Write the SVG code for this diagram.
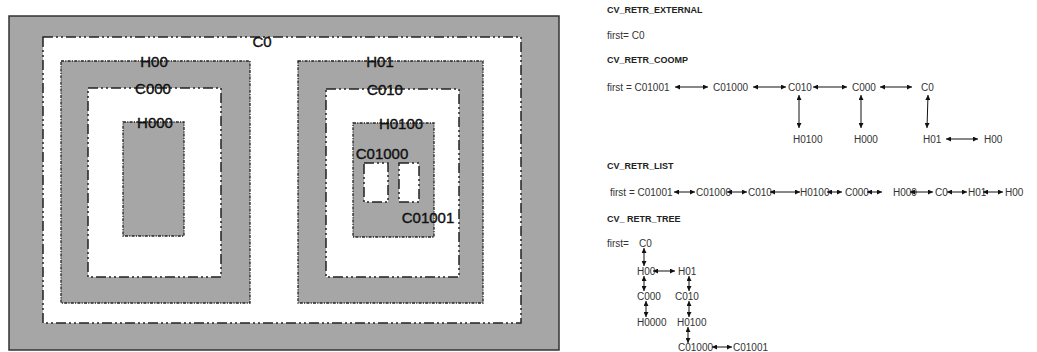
<svg xmlns="http://www.w3.org/2000/svg" width="1037" height="352" viewBox="0 0 1037 352">
<defs>
<marker id="ah" viewBox="0 0 6 6" refX="6" refY="3" markerWidth="6" markerHeight="5" markerUnits="userSpaceOnUse" orient="auto-start-reverse"><path d="M0,0 L6,3 L0,6 z" fill="#111"/></marker>
<style>
.bg{fill:#fff}
.panel{fill:#a6a6a6;stroke:#333;stroke-width:1.5}
.c{fill:#fff;stroke:#222;stroke-width:1.5;stroke-dasharray:10 3 2 3 2 3}
.h{fill:#a6a6a6;stroke:#222;stroke-width:1.3;stroke-dasharray:3 1.2 1.2 1.2}
.lbl{font-family:"Liberation Sans",Arial,sans-serif;font-size:15px;fill:#111;stroke:#111;stroke-width:0.4;text-anchor:middle}
.hd{font-family:"Liberation Sans",Arial,sans-serif;font-size:9px;font-weight:bold;fill:#222}
.t{font-family:"Liberation Sans",Arial,sans-serif;font-size:10px;fill:#333}
.ar{stroke:#111;stroke-width:1;fill:none;marker-start:url(#ah);marker-end:url(#ah)}
</style>
</defs>
<rect class="bg" x="0" y="0" width="1037" height="352"/>
<g id="image">
<rect class="panel" x="9" y="16" width="550" height="334"/>
<g id="C0"><rect class="c" x="43" y="37" width="478" height="286"/><text class="lbl" x="262" y="47">C0</text></g>
<g id="H00"><rect class="h" x="61" y="61" width="189" height="242"/><text class="lbl" x="154" y="67">H00</text></g>
<g id="C000"><rect class="c" x="88" y="88" width="133" height="189"/><text class="lbl" x="153" y="94">C000</text></g>
<g id="H000"><rect class="h" x="123" y="122" width="61" height="114"/><text class="lbl" x="155" y="128">H000</text></g>
<g id="H01"><rect class="h" x="298" y="61" width="185" height="242"/><text class="lbl" x="380" y="67">H01</text></g>
<g id="C010"><rect class="c" x="326" y="89" width="133" height="188"/><text class="lbl" x="385" y="95">C010</text></g>
<g id="H0100"><rect class="h" x="353" y="123" width="81" height="114"/><text class="lbl" x="401" y="129">H0100</text></g>
<g id="C01000"><rect class="c" x="364" y="163" width="24" height="39"/><text class="lbl" x="382" y="159">C01000</text></g>
<g id="C01001"><rect class="c" x="399" y="163" width="20" height="39"/><text class="lbl" x="428" y="223">C01001</text></g>
</g>
<g id="external">
<text class="hd" x="607" y="13">CV_RETR_EXTERNAL</text>
<text class="t" x="607" y="39">first= C0</text>
</g>
<g id="ccomp">
<text class="hd" x="607" y="63">CV_RETR_COOMP</text>
<text class="t" x="607" y="91">first = C01001</text>
<text class="t" x="713" y="91">C01000</text>
<text class="t" x="788" y="91">C010</text>
<text class="t" x="852" y="91">C000</text>
<text class="t" x="921" y="91">C0</text>
<text class="t" x="793" y="143">H0100</text>
<text class="t" x="854" y="143">H000</text>
<text class="t" x="923" y="143">H01</text>
<text class="t" x="984" y="143">H00</text>
</g>
<g id="list">
<text class="hd" x="607" y="169">CV_RETR_LIST</text>
<text class="t" x="610" y="196">first = C01001</text>
<text class="t" x="696" y="196">C01000</text>
<text class="t" x="748" y="196">C010</text>
<text class="t" x="800" y="196">H0100</text>
<text class="t" x="845" y="196">C000</text>
<text class="t" x="893" y="196">H000</text>
<text class="t" x="935" y="196">C0</text>
<text class="t" x="968" y="196">H01</text>
<text class="t" x="1005" y="196">H00</text>
</g>
<g id="tree">
<text class="hd" x="607" y="222">CV_ RETR_TREE</text>
<text class="t" x="607" y="247">first=</text>
<text class="t" x="639" y="247">C0</text>
<text class="t" x="637" y="275">H00</text>
<text class="t" x="678" y="275">H01</text>
<text class="t" x="637" y="300">C000</text>
<text class="t" x="675" y="300">C010</text>
<text class="t" x="637" y="326">H0000</text>
<text class="t" x="677" y="326">H0100</text>
<text class="t" x="678" y="351">C01000</text>
<text class="t" x="733" y="351">C01001</text>
</g>
<g id="connectors">
<line class="ar" x1="675" y1="87" x2="708" y2="87"/>
<line class="ar" x1="753" y1="87" x2="786" y2="87"/>
<line class="ar" x1="813" y1="87" x2="847" y2="87"/>
<line class="ar" x1="880" y1="87" x2="912" y2="87"/>
<line class="ar" x1="799" y1="95" x2="799" y2="128"/>
<line class="ar" x1="861" y1="95" x2="861" y2="128"/>
<line class="ar" x1="928" y1="95" x2="927" y2="128"/>
<line class="ar" x1="946" y1="139" x2="978" y2="139"/>
<line class="ar" x1="674" y1="192" x2="695" y2="192"/>
<line class="ar" x1="727" y1="192" x2="747" y2="192"/>
<line class="ar" x1="770" y1="192" x2="800" y2="192"/>
<line class="ar" x1="827" y1="192" x2="842" y2="192"/>
<line class="ar" x1="867" y1="192" x2="882" y2="192"/>
<line class="ar" x1="910" y1="192" x2="933" y2="192"/>
<line class="ar" x1="947" y1="192" x2="967" y2="192"/>
<line class="ar" x1="983" y1="192" x2="1003" y2="192"/>
<line class="ar" x1="644" y1="248" x2="644" y2="266"/>
<line class="ar" x1="653" y1="271" x2="675" y2="271"/>
<line class="ar" x1="644" y1="276" x2="644" y2="291"/>
<line class="ar" x1="689" y1="276" x2="689" y2="291"/>
<line class="ar" x1="646" y1="301" x2="646" y2="317"/>
<line class="ar" x1="689" y1="301" x2="689" y2="317"/>
<line class="ar" x1="688" y1="327" x2="688" y2="343"/>
<line class="ar" x1="712" y1="347" x2="732" y2="347"/>
</g>
</svg>
